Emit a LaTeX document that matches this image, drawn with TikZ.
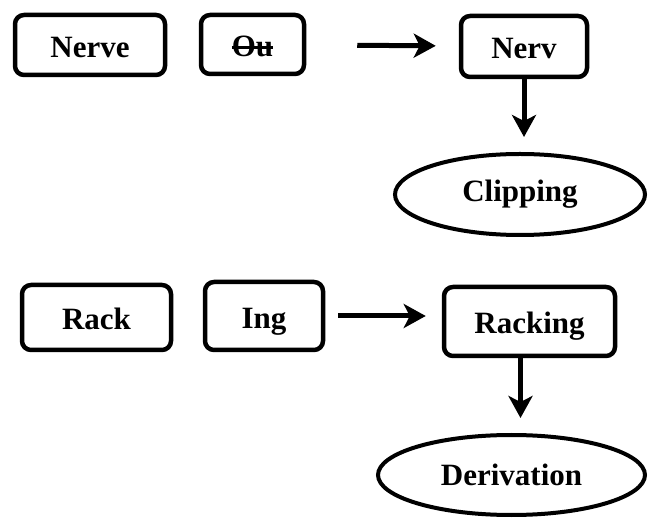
\documentclass[tikz,border=0pt]{standalone}
\usepackage{fontspec}
\setmainfont{Liberation Serif}
\usetikzlibrary{shapes, arrows.meta}
\newcommand{\struck}[1]{\setbox0\hbox{#1}\rlap{\rule[8pt]{\wd0}{2.5pt}}\box0}

\begin{document}
\begin{tikzpicture}[x=1pt,y=-1pt]
  \tikzset{part/.style={rectangle, rounded corners=9pt, draw, line width=4.5pt, inner sep=0pt,
      text height=28pt, text depth=3pt, font=\fontsize{31}{36}\selectfont\bfseries}}
  \tikzset{result/.style={ellipse, draw, line width=4pt, inner sep=0pt,
      font=\fontsize{31}{36}\selectfont\bfseries}}
  \tikzset{flow/.style={line width=5pt, -{Stealth[length=22pt, width=24pt, inset=6pt]}}}

  \useasboundingbox (0,0) rectangle (648,518);

  % clipping
  \node[part, minimum width=150pt, minimum height=60pt] (Nerve) at (90,45) {Nerve};
  \node[part, minimum width=103pt, minimum height=59pt] (Ou) at (252.5,44.5) {\struck{Ou}};
  \node[part, minimum width=126pt, minimum height=61pt] (Nerv) at (524,46.5) {Nerv};
  \node[result, minimum width=250pt, minimum height=81pt] (Clipping) at (520,194.5) {Clipping};

  \draw[flow, shorten <=51pt, shorten >=23pt] (Ou) -- (Nerv);
  \draw[flow, shorten >=15pt] (Nerv.south) -- (Nerv.south |- Clipping.north);

  % derivation
  \node[part, minimum width=149pt, minimum height=65pt] (Rack) at (96.5,317.5) {Rack};
  \node[part, minimum width=118pt, minimum height=68pt] (Ing) at (264,316) {Ing};
  \node[part, minimum width=171pt, minimum height=69pt] (Racking) at (529.5,321.5) {Racking};
  \node[result, minimum width=267pt, minimum height=80pt] (Derivation) at (511.5,475) {Derivation};

  \draw[flow, shorten <=13pt, shorten >=16pt] (Ing.east) -- (Ing.east -| Racking.west);
  \draw[flow, shorten >=15pt] ([xshift=-9pt]Racking.south) -- ([xshift=-9pt]Racking.south |- Derivation.north);
\end{tikzpicture}
\end{document}
